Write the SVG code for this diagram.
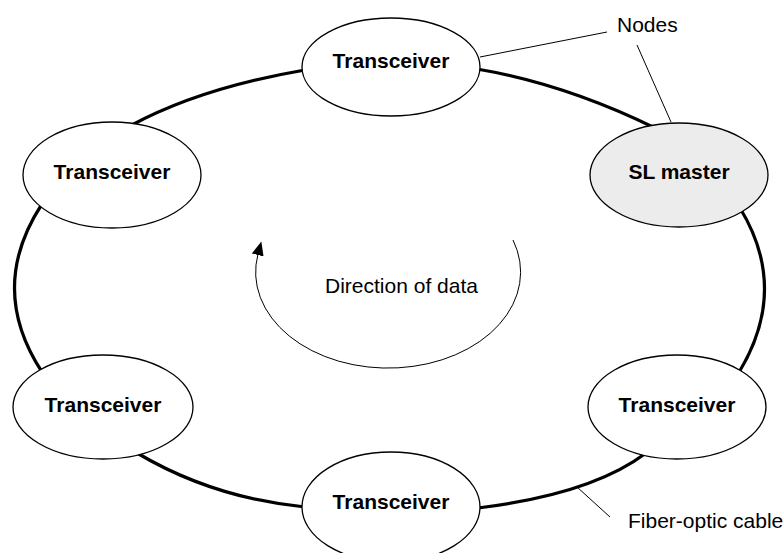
<svg xmlns="http://www.w3.org/2000/svg" width="784" height="553" viewBox="0 0 784 553">
<style>
.ring{fill:none;stroke:#000;stroke-width:3.2}
.node{fill:#fff;stroke:#000;stroke-width:1.3}
.master{fill:#ececec}
.lead{fill:none;stroke:#000;stroke-width:1}
.lbl{font-family:"Liberation Sans",Arial,sans-serif;font-size:21px;font-weight:bold;text-anchor:middle;fill:#000}
.txt{font-family:"Liberation Sans",Arial,sans-serif;font-size:21px;fill:#000}
</style>
<defs>
<marker id="arr" viewBox="0 0 14 12" refX="1" refY="6" markerWidth="14" markerHeight="12" markerUnits="userSpaceOnUse" orient="auto">
<path d="M0,0 L14,6 L0,12 Z" fill="#000"/>
</marker>
</defs>
<g id="connectors">
<path class="ring" d="M305,70 Q200,88 130,126"/>
<path class="ring" d="M477,69 Q565,84 655,128"/>
<path class="ring" d="M740,208 Q790,290 738,374"/>
<path class="ring" d="M646,453 Q592,494 478,508"/>
<path class="ring" d="M305,507 Q213,498 137,453"/>
<path class="ring" d="M42,372 Q-13,288 42,204"/>
<path class="lead" d="M607,32 L480,57"/>
<path class="lead" d="M637,45 L671,122"/>
<path class="lead" d="M577,487 L610,517"/>
<path class="lead" d="M513,240 A132.5 96 0 1 1 258,254" marker-end="url(#arr)"/>
</g>
<g id="node-top"><ellipse class="node" cx="391" cy="67" rx="89" ry="49"/><text class="lbl" x="391" y="68">Transceiver</text></g>
<g id="node-upper-left"><ellipse class="node" cx="112" cy="175" rx="89" ry="53"/><text class="lbl" x="112" y="179">Transceiver</text></g>
<g id="node-sl-master"><ellipse class="node master" cx="679" cy="175" rx="89" ry="52"/><text class="lbl" x="679" y="179">SL master</text></g>
<g id="node-lower-left"><ellipse class="node" cx="103" cy="407" rx="90" ry="52"/><text class="lbl" x="103" y="412">Transceiver</text></g>
<g id="node-lower-right"><ellipse class="node" cx="677" cy="407" rx="89" ry="52"/><text class="lbl" x="677" y="412">Transceiver</text></g>
<g id="node-bottom"><ellipse class="node" cx="391" cy="507" rx="89" ry="55"/><text class="lbl" x="391" y="509">Transceiver</text></g>
<g id="labels">
<text class="txt" x="617" y="32">Nodes</text>
<text class="txt" x="325" y="293">Direction of data</text>
<text class="txt" x="628" y="528">Fiber-optic cable</text>
</g>
</svg>
